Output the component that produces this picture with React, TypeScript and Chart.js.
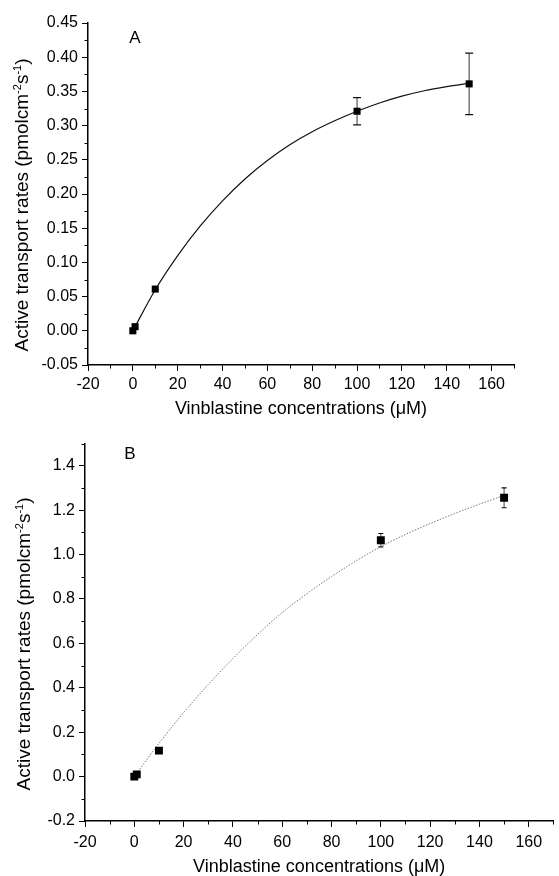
import React, { useEffect, useRef } from "react";
import { Chart, registerables } from "chart.js";

Chart.register(...registerables);

const FONT = "'Liberation Sans', Arial, Helvetica, sans-serif";

// ---------- Panel A ----------
const concA = [0, 1, 10, 100, 150];
const rateA = [0.0, 0.006, 0.061, 0.321, 0.361];
const errA = [0, 0, 0, 0.02, 0.045];
const fitXA = [0, 10, 20, 30, 40, 50, 60, 70, 80, 90, 100, 110, 120, 130, 140, 150];
const fitYA = [0, 0.06, 0.11, 0.153, 0.19, 0.222, 0.249, 0.272, 0.291, 0.307, 0.321, 0.333, 0.343, 0.351, 0.357, 0.362];
const yTicksA = [-0.05, 0, 0.05, 0.1, 0.15, 0.2, 0.25, 0.3, 0.35, 0.4, 0.45];
const yMinorA = [-0.025, 0.025, 0.075, 0.125, 0.175, 0.225, 0.275, 0.325, 0.375, 0.425];

// ---------- Panel B ----------
const concB = [0, 1, 10, 100, 150];
const rateB = [0.0, 0.01, 0.117, 1.065, 1.256];
const errB = [0, 0, 0, 0.03, 0.045];
const fitXB = [0, 10, 20, 30, 40, 50, 60, 70, 80, 90, 100, 110, 120, 130, 140, 150];
const fitYB = [0, 0.15, 0.288, 0.415, 0.532, 0.64, 0.739, 0.824, 0.901, 0.972, 1.036, 1.091, 1.14, 1.185, 1.227, 1.266];
const yTicksB = [-0.2, 0, 0.2, 0.4, 0.6, 0.8, 1.0, 1.2, 1.4];
const yMinorB = [-0.1, 0.1, 0.3, 0.5, 0.7, 0.9, 1.1, 1.3, 1.5];

// ---------- shared x axis ----------
const xTicks = [-20, 0, 20, 40, 60, 80, 100, 120, 140, 160];
const xMinor = [-10, 10, 30, 50, 70, 90, 110, 130, 150, 170];

const xTitle = "Vinblastine concentrations (\u03BCM)";
const yTitleParts = [
  { t: "Active transport rates (pmolcm", sup: false },
  { t: "-2", sup: true },
  { t: "s", sup: false },
  { t: "-1", sup: true },
  { t: ")", sup: false },
];

type Panel = {
  W: number;
  H: number;
  plot: { left: number; right: number; top: number; bottom: number };
  xMin: number;
  xMax: number;
  yMin: number;
  yMax: number;
  yTicks: number[];
  yMinor: number[];
  dec: number;
  conc: number[];
  rate: number[];
  err: number[];
  fitX: number[];
  fitY: number[];
  fitColor: string;
  fitDash: number[];
  fitWidth: number;
  errColor: string;
  capW: number;
  pointR: number;
  letter: string;
  letterPos: [number, number];
  yTitlePos: [number, number];
  xTitleY: number;
  tickPadX: number;
  tickPadY: number;
};

const panelA: Panel = {
  W: 559,
  H: 430,
  plot: { left: 88, right: 514, top: 23, bottom: 365 },
  xMin: -20,
  xMax: 170,
  yMin: -0.05,
  yMax: 0.45,
  yTicks: yTicksA,
  yMinor: yMinorA,
  dec: 2,
  conc: concA,
  rate: rateA,
  err: errA,
  fitX: fitXA,
  fitY: fitYA,
  fitColor: "#111",
  fitDash: [],
  fitWidth: 1.2,
  errColor: "#555",
  capW: 8,
  pointR: 5,
  letter: "A",
  letterPos: [135, 38],
  yTitlePos: [22, 205],
  xTitleY: 409,
  tickPadX: 4,
  tickPadY: 4,
};

const panelB: Panel = {
  W: 559,
  H: 446,
  plot: { left: 85, right: 558, top: 8, bottom: 391 },
  xMin: -20,
  xMax: 170,
  yMin: -0.2,
  yMax: 1.5,
  yTicks: yTicksB,
  yMinor: yMinorB,
  dec: 1,
  conc: concB,
  rate: rateB,
  err: errB,
  fitX: fitXB,
  fitY: fitYB,
  fitColor: "#777",
  fitDash: [1.5, 1.5],
  fitWidth: 1,
  errColor: "#666",
  capW: 5,
  pointR: 5.6,
  letter: "B",
  letterPos: [130, 24],
  yTitlePos: [24, 214],
  xTitleY: 437,
  tickPadX: 6,
  tickPadY: 4,
};

function makeChart(canvas: HTMLCanvasElement, p: Panel) {
  const decor = {
    id: "decor",
    beforeDatasetsDraw(chart: any) {
      const ctx = chart.ctx;
      const xs = chart.scales.x;
      const ys = chart.scales.y;
      ctx.save();
      p.conc.forEach((c: number, i: number) => {
        const e = p.err[i];
        if (!e) return;
        const x = xs.getPixelForValue(c);
        const yTop = ys.getPixelForValue(p.rate[i] + e);
        const yBot = ys.getPixelForValue(p.rate[i] - e);
        ctx.strokeStyle = p.errColor;
        ctx.lineWidth = 1.2;
        ctx.beginPath();
        ctx.moveTo(x, yTop);
        ctx.lineTo(x, yBot);
        ctx.stroke();
        ctx.strokeStyle = "#111";
        ctx.beginPath();
        ctx.moveTo(x - p.capW / 2, yTop);
        ctx.lineTo(x + p.capW / 2, yTop);
        ctx.moveTo(x - p.capW / 2, yBot);
        ctx.lineTo(x + p.capW / 2, yBot);
        ctx.stroke();
      });
      ctx.restore();
    },
    afterDraw(chart: any) {
      const ctx = chart.ctx;
      const xs = chart.scales.x;
      const ys = chart.scales.y;
      const area = chart.chartArea;
      ctx.save();
      // minor ticks
      ctx.strokeStyle = "#000";
      ctx.lineWidth = 1;
      ctx.beginPath();
      p.yMinor.forEach((v) => {
        const y = Math.round(ys.getPixelForValue(v)) + 0.5;
        ctx.moveTo(area.left - 3.5, y);
        ctx.lineTo(area.left, y);
      });
      xMinor.forEach((v) => {
        const x = Math.round(xs.getPixelForValue(v)) + 0.5;
        ctx.moveTo(x, area.bottom);
        ctx.lineTo(x, area.bottom + 3.5);
      });
      ctx.stroke();

      ctx.fillStyle = "#000";
      // panel letter
      ctx.font = `17px ${FONT}`;
      ctx.textAlign = "center";
      ctx.textBaseline = "middle";
      ctx.fillText(p.letter, p.letterPos[0], p.letterPos[1]);

      // x title
      ctx.font = `18px ${FONT}`;
      ctx.fillText(xTitle, (area.left + area.right) / 2, p.xTitleY);

      // y title with superscripts
      const big = 19;
      const small = 11;
      let total = 0;
      const widths = yTitleParts.map((s) => {
        ctx.font = `${s.sup ? small : big}px ${FONT}`;
        const w = ctx.measureText(s.t).width;
        total += w;
        return w;
      });
      ctx.translate(p.yTitlePos[0], p.yTitlePos[1]);
      ctx.rotate(-Math.PI / 2);
      ctx.textAlign = "left";
      ctx.textBaseline = "alphabetic";
      let x = -total / 2;
      yTitleParts.forEach((s, i) => {
        ctx.font = `${s.sup ? small : big}px ${FONT}`;
        ctx.fillText(s.t, x, s.sup ? -1 : 6);
        x += widths[i];
      });
      ctx.restore();
    },
  };

  return new Chart(canvas, {
    type: "scatter",
    data: {
      datasets: [
        {
          data: p.conc.map((c, i) => ({ x: c, y: p.rate[i] })),
          pointStyle: "rect",
          pointRadius: p.pointR,
          pointBackgroundColor: "#000",
          pointBorderColor: "#000",
          pointBorderWidth: 0,
          order: 0,
        },
        {
          data: p.fitX.map((x, i) => ({ x, y: p.fitY[i] })),
          showLine: true,
          borderColor: p.fitColor,
          borderWidth: p.fitWidth,
          borderDash: p.fitDash,
          pointRadius: 0,
          cubicInterpolationMode: "monotone",
          fill: false,
          order: 1,
        },
      ],
    },
    options: {
      responsive: false,
      animation: false,
      events: [],
      devicePixelRatio: 1,
      layout: {
        padding: { left: 0, top: p.plot.top, right: p.W - p.plot.right, bottom: 0 },
      },
      plugins: {
        legend: { display: false },
        tooltip: { enabled: false },
      },
      scales: {
        x: {
          type: "linear",
          min: p.xMin,
          max: p.xMax,
          afterBuildTicks: (s: any) => {
            s.ticks = xTicks.map((v) => ({ value: v }));
          },
          afterFit: (s: any) => {
            s.height = p.H - p.plot.bottom;
          },
          ticks: {
            color: "#000",
            font: { family: FONT, size: 16 },
            padding: p.tickPadX,
            maxRotation: 0,
            autoSkip: false,
            callback: (v: any) => String(v),
          },
          grid: { drawOnChartArea: false, drawTicks: true, tickLength: 6, color: "#000", lineWidth: 1 },
          border: { display: true, color: "#000", width: 1.5 },
        },
        y: {
          type: "linear",
          min: p.yMin,
          max: p.yMax,
          afterBuildTicks: (s: any) => {
            s.ticks = p.yTicks.map((v) => ({ value: v }));
          },
          afterFit: (s: any) => {
            s.width = p.plot.left;
          },
          ticks: {
            color: "#000",
            font: { family: FONT, size: 16 },
            padding: p.tickPadY,
            autoSkip: false,
            callback: (v: any) => Number(v).toFixed(p.dec),
          },
          grid: { drawOnChartArea: false, drawTicks: true, tickLength: 6, color: "#000", lineWidth: 1 },
          border: { display: true, color: "#000", width: 1.5 },
        },
      },
    },
    plugins: [decor],
  } as any);
}

function PanelChart({ p, top }: { p: Panel; top: number }) {
  const ref = useRef<HTMLCanvasElement | null>(null);
  useEffect(() => {
    if (!ref.current) return;
    const chart = makeChart(ref.current, p);
    return () => chart.destroy();
  }, [p]);
  return (
    <canvas
      ref={ref}
      width={p.W}
      height={p.H}
      style={{ position: "absolute", left: 0, top, width: p.W, height: p.H, display: "block" }}
    />
  );
}

export default function App() {
  return (
    <div
      style={{
        position: "absolute",
        left: 0,
        top: 0,
        width: 559,
        height: 876,
        background: "#fff",
        overflow: "hidden",
      }}
    >
      <PanelChart p={panelA} top={0} />
      <PanelChart p={panelB} top={430} />
    </div>
  );
}
